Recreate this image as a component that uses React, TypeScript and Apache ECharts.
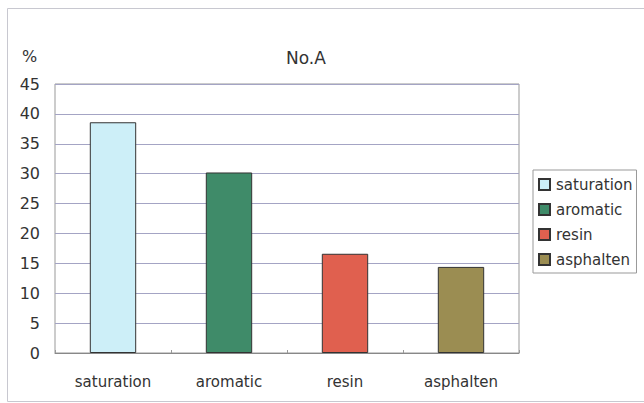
import React, { useEffect, useRef } from "react";
import * as echarts from "echarts";

const categories = ["saturation", "aromatic", "resin", "asphalten"];
const values = [38.6, 30.2, 16.6, 14.4];
const colors = ["#cdeff8", "#3f8b69", "#e0604f", "#9b8d52"];
const yTicks = { min: 0, max: 45, interval: 5 };
const chartTitle = "No.A";
const unitLabel = "%";

export default function App() {
  const ref = useRef<HTMLDivElement>(null);
  useEffect(() => {
    if (!ref.current) return;
    const chart = echarts.init(ref.current, null, { renderer: "svg" });
    const font = "'DejaVu Sans', sans-serif";
    const series = categories.map((c, i) => ({
      name: c,
      type: "bar",
      stack: "all",
      barWidth: "40%",
      data: categories.map((_, j) => (j === i ? values[i] : null)),
      itemStyle: { color: colors[i], borderColor: "#333", borderWidth: 1 },
    }));
    chart.setOption({
      animation: false,
      backgroundColor: "#fff",
      textStyle: { fontFamily: font },
      title: {
        text: chartTitle,
        left: 281,
        top: 44,
        textStyle: { fontSize: 17, fontWeight: "normal", color: "#333", fontFamily: font },
      },
      graphic: [
        {
          type: "line",
          shape: { x1: 7.5, y1: 8.5, x2: 644, y2: 8.5 },
          style: { stroke: "#c8c8d0", lineWidth: 1 },
        },
        {
          type: "line",
          shape: { x1: 7.5, y1: 8.5, x2: 7.5, y2: 401.5 },
          style: { stroke: "#c8c8d0", lineWidth: 1 },
        },
        {
          type: "line",
          shape: { x1: 7.5, y1: 401.5, x2: 644, y2: 401.5 },
          style: { stroke: "#c8c8d0", lineWidth: 1 },
        },
        {
          type: "text",
          left: 22,
          top: 48,
          style: { text: unitLabel, fontSize: 16, fill: "#333", fontFamily: font },
        },
      ],
      legend: {
        orient: "vertical",
        left: 533,
        top: 170,
        data: categories,
        itemWidth: 11,
        itemHeight: 11,
        itemGap: 10,
        padding: [7, 4, 6, 5],
        borderColor: "#999",
        borderWidth: 1,
        icon: "rect",
        textStyle: { fontSize: 15, color: "#333", fontFamily: font, padding: [0, 0, 0, 1] },
      },
      grid: {
        left: 55,
        right: 125,
        top: 84,
        bottom: 50,
        show: true,
        borderColor: "#999",
        borderWidth: 1,
      },
      xAxis: {
        type: "category",
        data: categories,
        axisLine: { lineStyle: { color: "#888" } },
        axisTick: { show: true, inside: true, length: 3, lineStyle: { color: "#999" } },
        axisLabel: { fontSize: 15, color: "#333", margin: 21, fontFamily: font },
      },
      yAxis: {
        type: "value",
        min: yTicks.min,
        max: yTicks.max,
        interval: yTicks.interval,
        axisLine: { show: false },
        axisTick: { show: false },
        axisLabel: { fontSize: 16, color: "#333", margin: 15, fontFamily: font },
        splitLine: { lineStyle: { color: "#a4a4c4", width: 1 } },
      },
      series,
    });
    return () => chart.dispose();
  }, []);
  return (
    <div
      ref={ref}
      style={{ position: "fixed", left: 0, top: 0, width: 644, height: 403 }}
    />
  );
}
